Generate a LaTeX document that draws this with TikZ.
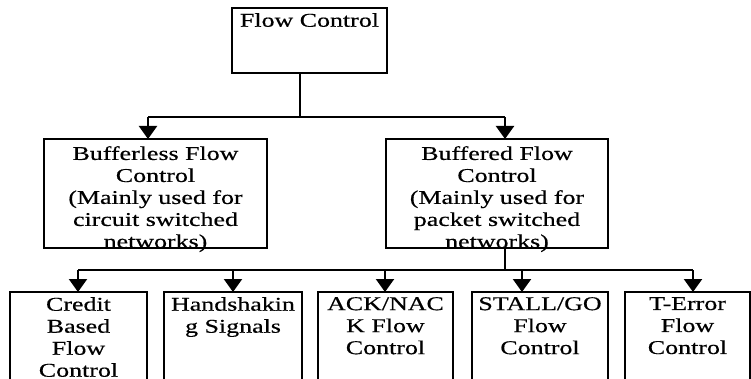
\documentclass[tikz,border=0pt]{standalone}
\usepackage{fontspec}
\setmainfont[FakeStretch=1.33,FakeBold=0.5]{Liberation Serif}
\usetikzlibrary{arrows.meta}
\begin{document}
\begin{tikzpicture}[x=1pt,y=-1pt,
  box/.style={draw,line width=2.2pt,inner sep=0pt,outer sep=0pt},
  txt/.style={inner sep=0pt,align=center,anchor=north,font=\fontsize{19.5}{22}\selectfont},
  conn/.style={line width=2.2pt},
  arr/.style={line width=2.2pt,-{Triangle[width=18pt,length=13pt]}}]
\useasboundingbox (0,0) rectangle (751,379);
% boxes
\node[box,minimum width=155pt,minimum height=65pt] (top) at (309.5,40.5) {};
\node[txt] (topt) at ([yshift=-5pt]top.north) {Flow Control};
\node[box,minimum width=223pt,minimum height=109pt] (bl) at (155.5,193.5) {};
\node[txt] (blt) at ([yshift=-7pt]bl.north) {Bufferless Flow\\Control\\(Mainly used for\\circuit switched\\networks)};
\node[box,minimum width=222pt,minimum height=109pt] (bf) at (497,193.5) {};
\node[txt] (bft) at ([yshift=-7pt]bf.north) {Buffered Flow\\Control\\(Mainly used for\\packet switched\\networks)};
\node[box,minimum width=137pt,minimum height=92pt] (c1) at (78.5,338) {};
\node[txt] (c1t) at ([yshift=-5pt]c1.north) {Credit\\Based\\Flow\\Control};
\node[box,minimum width=138pt,minimum height=92pt] (c2) at (233,338) {};
\node[txt] (c2t) at ([yshift=-5pt]c2.north) {Handshakin\\g Signals};
\node[box,minimum width=135pt,minimum height=92pt] (c3) at (385.5,338) {};
\node[txt] (c3t) at ([yshift=-5pt]c3.north) {ACK/NAC\\K Flow\\Control};
\node[box,minimum width=136pt,minimum height=92pt] (c4) at (540,338) {};
\node[txt] (c4t) at ([yshift=-5pt]c4.north) {STALL/GO\\Flow\\Control};
\node[box,minimum width=125pt,minimum height=92pt] (c5) at (687.5,338) {};
\node[txt] (c5t) at ([yshift=-5pt]c5.north) {T-Error\\Flow\\Control};
% connectors
\coordinate (j1) at (300,117);
\coordinate (h1l) at (148,117);
\coordinate (h1r) at (505,117);
\coordinate (j2) at (505,270);
\coordinate (h2l) at (78,270);
\coordinate (h2r) at (693,270);
\draw[conn] (j1 |- top.south) -- (j1);
\draw[conn] (h1l) -- (h1r);
\draw[arr] (h1l) -- (h1l |- bl.north);
\draw[arr] (h1r) -- (h1r |- bf.north);
\draw[conn] (j2 |- bf.south) -- (j2);
\draw[conn] (h2l) -- (h2r);
\draw[arr] (h2l) -- (h2l |- c1.north);
\draw[arr] (233,270) -- (233,270 |- c2.north);
\draw[arr] (385,270) -- (385,270 |- c3.north);
\draw[arr] (522,270) -- (522,270 |- c4.north);
\draw[arr] (h2r) -- (h2r |- c5.north);
\end{tikzpicture}
\end{document}
